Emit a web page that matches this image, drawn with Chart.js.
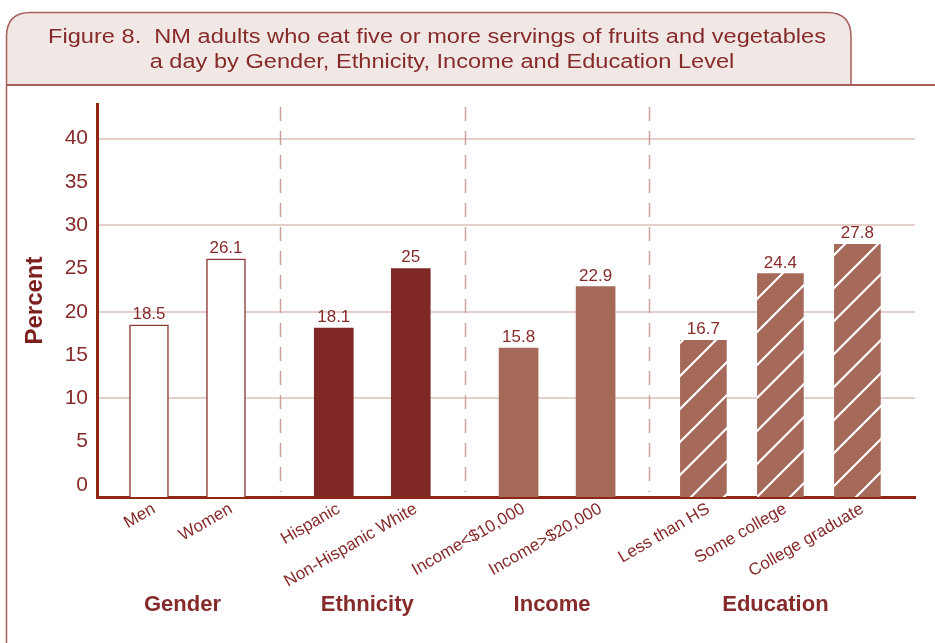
<!DOCTYPE html>
<html><head><meta charset="utf-8">
<script src="https://cdn.jsdelivr.net/npm/chart.js@4.4.1/dist/chart.umd.min.js"></script>
<style>html,body{margin:0;padding:0;background:#fff;}#wrap{width:935px;height:643px;position:relative;}</style>
</head><body><div id="wrap"><canvas id="c" width="935" height="643"></canvas></div>
<script>
// ---- data ----
const titleLines = ['Figure 8.  NM adults who eat five or more servings of fruits and vegetables',
                    'a day by Gender, Ethnicity, Income and Education Level'];
const groups = ['Gender', 'Ethnicity', 'Income', 'Education'];
const categories = ['Men', 'Women', 'Hispanic', 'Non-Hispanic White', 'Income<$10,000',
                    'Income>$20,000', 'Less than HS', 'Some college', 'College graduate'];
const categoryGroup = [0, 0, 1, 1, 2, 2, 3, 3, 3];
const values = [18.5, 26.1, 18.1, 25, 15.8, 22.9, 16.7, 24.4, 27.8];
const valueLabels = ['18.5', '26.1', '18.1', '25', '15.8', '22.9', '16.7', '24.4', '27.8'];
const yTicks = [0, 5, 10, 15, 20, 25, 30, 35, 40];
const yTitle = 'Percent';

// ---- layout / style ----
const FONT = '"Liberation Sans", Arial, Helvetica, sans-serif';
const TEXT = '#862b2b';
const AXIS = '#8e2814';
const GROUP_GAP = 0.4;
const Y_MIN = -1.4, Y_MAX = 44;
const X_MIN = -0.675, X_MAX = 9.948;
const slot = categories.map((c, i) => i + categoryGroup[i] * GROUP_GAP);

function hatch(bg) {
  const s = 33, cv = document.createElement('canvas');
  cv.width = s; cv.height = s;
  const g = cv.getContext('2d');
  g.fillStyle = bg; g.fillRect(0, 0, s, s);
  g.strokeStyle = '#ffffff'; g.lineWidth = 2.2;
  g.beginPath();
  g.moveTo(-2, s + 2); g.lineTo(s + 2, -2);
  g.moveTo(-2, 2); g.lineTo(2, -2);
  g.moveTo(s - 2, s + 2); g.lineTo(s + 2, s - 2);
  g.stroke();
  return document.getElementById('c').getContext('2d').createPattern(cv, 'repeat');
}

const groupStyles = [
  {backgroundColor: '#ffffff', borderColor: '#8e3a36', borderWidth: 1.5, barThickness: 39},
  {backgroundColor: '#802826', borderColor: '#802826', borderWidth: 0, barThickness: 39},
  {backgroundColor: '#a5695a', borderColor: '#a5695a', borderWidth: 0, barThickness: 39},
  {backgroundColor: hatch('#a5695a'), borderColor: '#a5695a', borderWidth: 0, barThickness: 46}
];

const datasets = groups.map((gName, g) => Object.assign({
  label: gName,
  data: categories.map((c, i) => i).filter(i => categoryGroup[i] === g)
                  .map(i => ({x: slot[i], y: values[i], i: i})),
  grouped: false,
  base: Y_MIN,
  borderSkipped: 'bottom'
}, groupStyles[g]));

function stretchedText(ctx, text, x, y, sx) {
  ctx.save();
  ctx.translate(x, y); ctx.scale(sx, 1);
  ctx.fillText(text, 0, 0);
  ctx.restore();
}

const decor = {
  id: 'decor',
  beforeDraw(chart) {
    const ctx = chart.ctx;
    ctx.save();
    ctx.fillStyle = '#fff'; ctx.fillRect(0, 0, chart.width, chart.height);
    // title box
    const L = 6.5, T = 12.5, R = 851, B = 85, r = 24;
    ctx.beginPath();
    ctx.moveTo(L, B); ctx.lineTo(L, T + r);
    ctx.quadraticCurveTo(L, T, L + r, T);
    ctx.lineTo(R - r, T); ctx.quadraticCurveTo(R, T, R, T + r);
    ctx.lineTo(R, B); ctx.closePath();
    ctx.fillStyle = '#f1e7e4'; ctx.fill();
    ctx.strokeStyle = '#a6605b'; ctx.lineWidth = 1.5;
    ctx.beginPath();
    ctx.moveTo(L, chart.height); ctx.lineTo(L, T + r);
    ctx.quadraticCurveTo(L, T, L + r, T);
    ctx.lineTo(R - r, T); ctx.quadraticCurveTo(R, T, R, T + r);
    ctx.lineTo(R, B);
    ctx.stroke();
    ctx.lineWidth = 2;
    ctx.beginPath(); ctx.moveTo(L, B); ctx.lineTo(chart.width, B); ctx.stroke();
    // title text
    ctx.fillStyle = TEXT; ctx.font = '20px ' + FONT;
    ctx.textAlign = 'center'; ctx.textBaseline = 'middle';
    stretchedText(ctx, titleLines[0], 437, 37, 1.18);
    stretchedText(ctx, titleLines[1], 442, 62, 1.18);
    ctx.restore();
  },
  beforeDatasetsDraw(chart) {
    const ctx = chart.ctx, xs = chart.scales.x, a = chart.chartArea;
    ctx.save();
    ctx.strokeStyle = '#caa29c'; ctx.lineWidth = 1.5; ctx.setLineDash([14, 10]);
    for (let i = 0; i < categories.length - 1; i++) {
      if (categoryGroup[i] !== categoryGroup[i + 1]) {
        const x = Math.round((xs.getPixelForValue(slot[i]) + xs.getPixelForValue(slot[i + 1])) / 2) + 0.5;
        ctx.beginPath(); ctx.moveTo(x, a.top + 3); ctx.lineTo(x, a.bottom - 5); ctx.stroke();
      }
    }
    ctx.restore();
  },
  afterDatasetsDraw(chart) {
    const ctx = chart.ctx;
    ctx.save();
    ctx.fillStyle = TEXT; ctx.font = '17px ' + FONT;
    ctx.textAlign = 'center'; ctx.textBaseline = 'alphabetic';
    chart.data.datasets.forEach((ds, d) => {
      chart.getDatasetMeta(d).data.forEach((bar, k) => {
        ctx.fillText(valueLabels[ds.data[k].i], bar.x, bar.y - 6);
      });
    });
    // group labels
    const xs = chart.scales.x;
    ctx.font = 'bold 22px ' + FONT; ctx.textBaseline = 'middle';
    groups.forEach((g, gi) => {
      const idx = categories.map((c, i) => i).filter(i => categoryGroup[i] === gi);
      const x = (xs.getPixelForValue(slot[idx[0]]) + xs.getPixelForValue(slot[idx[idx.length - 1]])) / 2;
      ctx.fillText(g, x - 5, 605);
    });
    ctx.restore();
  }
};

new Chart(document.getElementById('c'), {
  type: 'bar',
  data: {datasets: datasets},
  plugins: [decor],
  options: {
    responsive: false,
    animation: false,
    layout: {padding: {left: 12, right: 20, top: 104, bottom: 0}},
    plugins: {legend: {display: false}, tooltip: {enabled: false}, title: {display: false}},
    scales: {
      x: {
        type: 'linear', min: X_MIN, max: X_MAX, offset: false,
        afterBuildTicks: s => { s.ticks = slot.map(v => ({value: v})); },
        afterFit: s => { s.height = 146; },
        grid: {display: false, drawTicks: false, offset: false},
        border: {display: true, color: AXIS, width: 3},
        ticks: {
          autoSkip: false, minRotation: 30, maxRotation: 30, padding: 2, labelOffset: 5,
          color: TEXT, font: {family: FONT, size: 17},
          callback: (v, i) => categories[i]
        }
      },
      y: {
        type: 'linear', min: Y_MIN, max: Y_MAX,
        afterBuildTicks: s => { s.ticks = yTicks.map(v => ({value: v})); },
        afterFit: s => { s.width = 85; },
        grid: {
          drawTicks: false, lineWidth: 2,
          color: c => (c.tick && c.tick.value > 0 && c.tick.value % 10 === 0) ? '#e4cfca' : 'rgba(0,0,0,0)'
        },
        border: {display: true, color: AXIS, width: 3},
        ticks: {padding: 9, color: TEXT, font: {family: FONT, size: 21}, callback: v => String(v)},
        title: {display: true, text: yTitle, color: '#7c1f1f', font: {family: FONT, size: 24, weight: 'bold'},
                padding: {top: 9, bottom: 0}}
      }
    }
  }
});
</script>
</body></html>
